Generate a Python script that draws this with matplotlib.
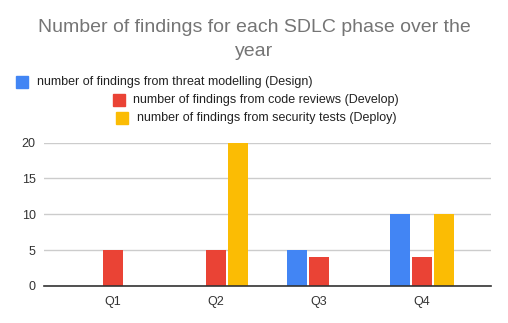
import numpy as np
import matplotlib.pyplot as plt
from matplotlib.patches import Rectangle

plt.rcParams['font.family'] = ['Liberation Sans', 'DejaVu Sans']

# --- DATA ---
quarters = ["Q1", "Q2", "Q3", "Q4"]
design = [0, 0, 5, 10]
develop = [5, 5, 4, 4]
deploy = [0, 20, 0, 10]
series_labels = [
    "number of findings from threat modelling (Design)",
    "number of findings from code reviews (Develop)",
    "number of findings from security tests (Deploy)",
]
colors = ["#4285F4", "#EA4335", "#FBBC04"]
y_ticks = [0, 5, 10, 15, 20]

W, H = 508, 323
fig = plt.figure(figsize=(W / 100, H / 100), dpi=100)
ax = fig.add_axes([44 / W, 1 - 286 / H, (491 - 44) / W, (286 - 142.5) / H])

x = np.arange(len(quarters))
width = 0.194
step = 0.213
for i, (vals, col) in enumerate(zip([design, develop, deploy], colors)):
    ax.bar(x + (i - 1) * step, vals, width, color=col, zorder=3, clip_on=False)

ax.set_xlim(-0.67, 3.67)
ax.set_ylim(0, 20)
ax.set_yticks(y_ticks)
ax.set_xticks(x)
ax.set_xticklabels(quarters)
ax.tick_params(axis='both', length=0, labelsize=9, labelcolor="#333333")
ax.tick_params(axis='y', pad=6)
ax.tick_params(axis='x', pad=7)
ax.grid(axis='y', color="#cccccc", linewidth=1, zorder=0)
for s in ["top", "right", "left"]:
    ax.spines[s].set_visible(False)
ax.spines["bottom"].set_color("#333333")
ax.spines["bottom"].set_linewidth(1.2)
ax.spines["bottom"].set_zorder(4)

# title
fig.text(0.5, 1 - 28 / H, "Number of findings for each SDLC phase over the",
         ha='center', va='center', fontsize=14, color="#757575")
fig.text(0.5, 1 - 52 / H, "year",
         ha='center', va='center', fontsize=14, color="#757575")

# staggered legend
legend_pos = [(16, 82, 37), (113, 100, 133), (116, 118, 137)]
for (mx, my, tx), lab, col in zip(legend_pos, series_labels, colors):
    fig.patches.append(Rectangle((mx / W, 1 - (my + 6) / H), 12 / W, 12 / H,
                                 transform=fig.transFigure, color=col))
    fig.text(tx / W, 1 - my / H, lab, ha='left', va='center',
             fontsize=9, color="#222222")

fig.savefig("out.png", dpi=100)
